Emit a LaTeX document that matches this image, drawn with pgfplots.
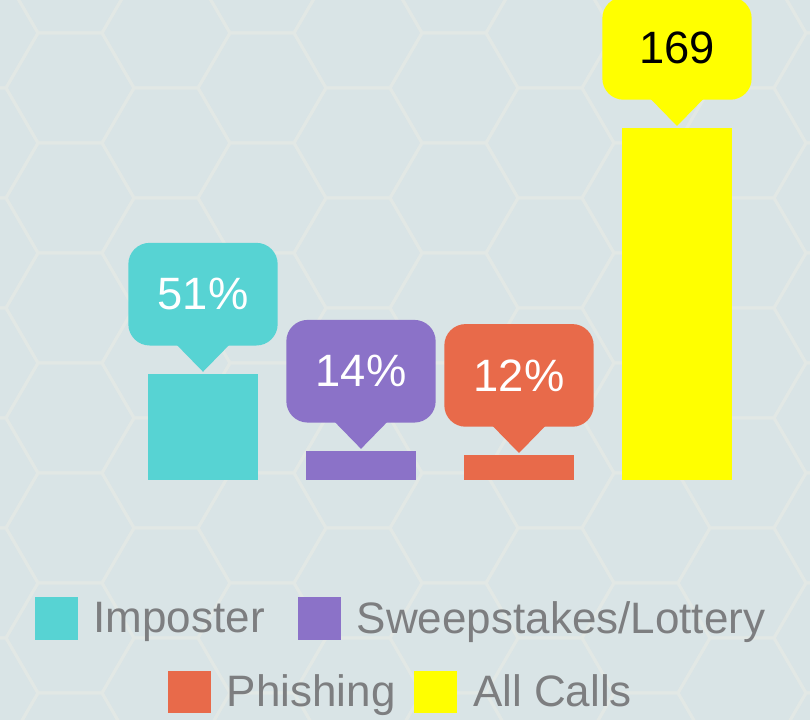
\documentclass[border=0pt]{standalone}
\usepackage{fontspec}
\setmainfont{Liberation Sans}
\usepackage{pgfplots}
\pgfplotsset{compat=1.18}

\definecolor{bgcol}{RGB}{217,228,230}
\definecolor{hexcol}{RGB}{226,232,229}
\definecolor{teal1}{RGB}{87,211,211}
\definecolor{purple1}{RGB}{139,114,200}
\definecolor{orange1}{RGB}{232,106,74}
\definecolor{yellow1}{RGB}{255,255,0}
\definecolor{legendgray}{RGB}{125,126,128}

% speech-bubble label: rounded box plus a small pointer under it
\tikzset{
  callout/.style={fill=#1, rounded corners=16pt, minimum width=112pt, minimum height=77pt,
    inner sep=0pt, anchor=south, yshift=21pt, font=\fontsize{34}{34}\selectfont, text=white,
    append after command={\pgfextra{\fill[#1, sharp corners]
      ([xshift=-20pt,yshift=1pt]\tikzlastnode.south) -- ([xshift=20pt,yshift=1pt]\tikzlastnode.south)
      -- ([yshift=-19.5pt]\tikzlastnode.south) -- cycle;}}},
}

\pgfplotsset{
  calllegend/.style={
    legend columns=2,
    legend style={draw=none, fill=none, anchor=center, font=\fontsize{33}{33}\selectfont,
      text=legendgray,
      /tikz/every odd column/.append style={column sep=10pt},
      /tikz/every even column/.append style={column sep=#1}},
    legend image code/.code={\fill[##1] (0pt,-16pt) rectangle (32pt,16pt);},
  },
  frame/.style={at={(93pt,180pt)}, anchor=south west, scale only axis,
    width=474pt, height=264pt, xmin=-0.5, xmax=3.5, ymin=0, ymax=169,
    hide axis, clip=false},
}

\begin{document}
\begin{tikzpicture}
% background with faint honeycomb
\begin{scope}
\clip (0,0) rectangle (607.5pt,540pt);
\fill[bgcol] (0,0) rectangle (607.5pt,540pt);
\foreach \i in {-1,...,9}{
  \foreach \j in {-1,...,7}{
    \pgfmathsetmacro\X{(70+96*\i)*0.75}
    \pgfmathsetmacro\Y{(720-(88+110*\j+55*abs(mod(\i,2))))*0.75}
    \draw[hexcol, line width=2.25pt, shift={(\X pt,\Y pt)}]
      (-48pt,0) -- (-24pt,41.25pt) -- (24pt,41.25pt) -- (48pt,0)
      -- (24pt,-41.25pt) -- (-24pt,-41.25pt) -- cycle;
  }
}
\end{scope}

\begin{axis}[frame,
  ybar, bar shift=0pt, bar width=82.5pt, calllegend=23pt,
  legend style={at={(0.439,-0.3935)}},
  /pgf/number format/assume math mode=true,
  nodes near coords={\pgfmathprintnumber{\pgfplotspointmeta}\%},
]
\addplot[fill=teal1, draw=none, every node near coord/.style={callout=teal1}]
  coordinates {(0,51)};
\addlegendentry{Imposter}
\addplot[fill=purple1, draw=none, every node near coord/.style={callout=purple1}]
  coordinates {(1,14)};
\addlegendentry{Sweepstakes/Lottery}
\addplot[fill=orange1, draw=none, forget plot, every node near coord/.style={callout=orange1}]
  coordinates {(2,12)};
\addplot[fill=yellow1, draw=none, forget plot,
  nodes near coords={\pgfmathprintnumber{\pgfplotspointmeta}},
  every node near coord/.style={callout=yellow1, text=black}]
  coordinates {(3,169)};
\end{axis}

% second legend row
\begin{axis}[frame, calllegend=12pt, legend style={at={(0.439,-0.602)}}]
\addlegendimage{fill=orange1, draw=none}
\addlegendentry{Phishing}
\addlegendimage{fill=yellow1, draw=none}
\addlegendentry{All Calls}
\end{axis}

\pgfresetboundingbox
\path[use as bounding box] (0,0) rectangle (607.5pt,540pt);
\end{tikzpicture}
\end{document}
